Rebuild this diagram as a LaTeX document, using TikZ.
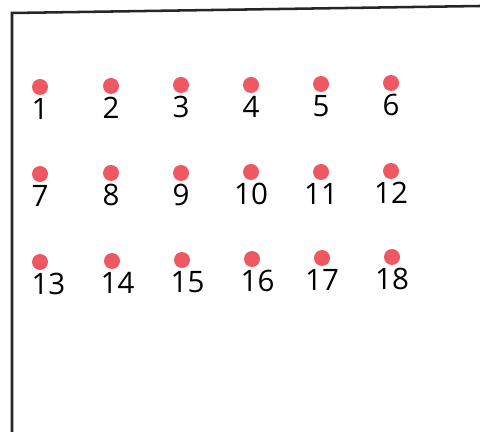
\documentclass[tikz,border=0pt]{standalone}
\usepackage{fontspec}
\setmainfont{Open Sans}
\usetikzlibrary{positioning}
\definecolor{vermelho}{RGB}{238, 88, 98}

\begin{document}
\begin{tikzpicture}[
    x=0.025cm, y=-0.025cm,
    ponto/.style={
        circle,
        fill=vermelho,
        inner sep=0pt,
        minimum size=0.4cm
    },
    numero/.style={
        inner sep=0pt,
        font=\fontsize{21}{24}\selectfont
    },
    moldura/.style={
        line width=1.8pt,
        black!85
    }
]

\useasboundingbox (0,0) rectangle (480,432);

% =================================================
% MOLDURA
% =================================================

\coordinate (cantoA) at (12,432);
\coordinate (cantoB) at (12,13);
\coordinate (cantoC) at (480,6);

\draw[moldura] (cantoA) -- (cantoB) -- (cantoC);

% =================================================
% LINHA 1
% =================================================

\node[ponto] (p1) at (40,87) {};
\node[ponto] (p2) at (111,86) {};
\node[ponto] (p3) at (181,85) {};
\node[ponto] (p4) at (251,85) {};
\node[ponto] (p5) at (321,84) {};
\node[ponto] (p6) at (391,83) {};

\node[numero, below=2pt of p1] (n1) {1};
\node[numero, below=2pt of p2] (n2) {2};
\node[numero, below=2pt of p3] (n3) {3};
\node[numero, below=2pt of p4] (n4) {4};
\node[numero, below=2pt of p5] (n5) {5};
\node[numero, below=2pt of p6] (n6) {6};

% =================================================
% LINHA 2
% =================================================

\node[ponto] (p7) at (40,174) {};
\node[ponto] (p8) at (111,173) {};
\node[ponto] (p9) at (181,173) {};
\node[ponto] (p10) at (251,172) {};
\node[ponto] (p11) at (321,172) {};
\node[ponto] (p12) at (391,171) {};

\node[numero, below=2pt of p7] (n7) {7};
\node[numero, below=2pt of p8] (n8) {8};
\node[numero, below=2pt of p9] (n9) {9};
\node[numero, below=2pt of p10] (n10) {10};
\node[numero, below=2pt of p11] (n11) {11};
\node[numero, below=2pt of p12] (n12) {12};

% =================================================
% LINHA 3
% =================================================

\node[ponto] (p13) at (40,262) {};
\node[ponto] (p14) at (112,261) {};
\node[ponto] (p15) at (182,260) {};
\node[ponto] (p16) at (252,259) {};
\node[ponto] (p17) at (322,258) {};
\node[ponto] (p18) at (392,257) {};

\node[numero, below=2pt of p13, xshift=6pt] (n13) {13};
\node[numero, below=2pt of p14, xshift=4pt] (n14) {14};
\node[numero, below=2pt of p15, xshift=4pt] (n15) {15};
\node[numero, below=2pt of p16, xshift=4pt] (n16) {16};
\node[numero, below=2pt of p17] (n17) {17};
\node[numero, below=2pt of p18] (n18) {18};

\end{tikzpicture}
\end{document}
